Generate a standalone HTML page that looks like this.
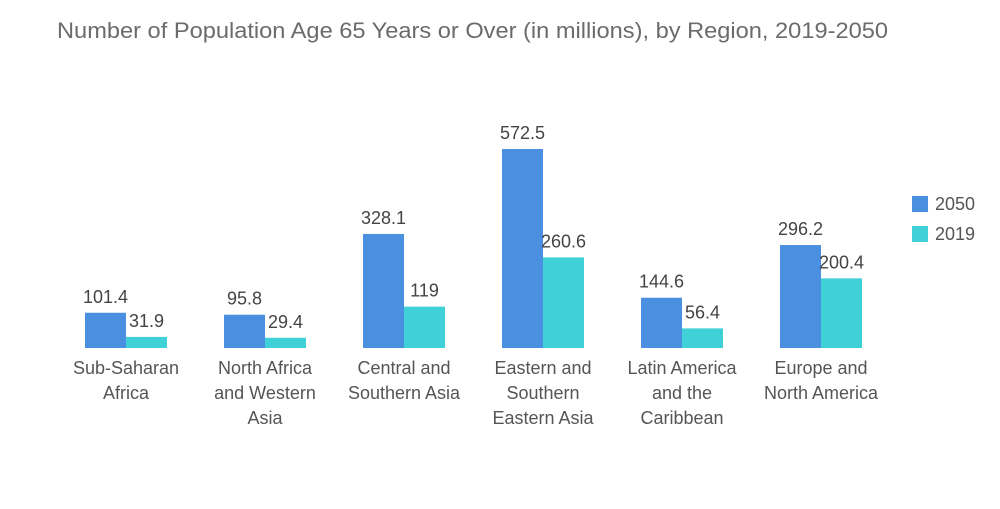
<!DOCTYPE html>
<html><head><meta charset="utf-8"><style>
body{margin:0;background:#fff;width:1000px;height:504px;overflow:hidden;font-family:"Liberation Sans",sans-serif}
svg text{font-family:"Liberation Sans",sans-serif}
</style></head><body>
<svg id="chart" width="1000" height="504">
<text x="57" y="38" font-size="22" fill="#6b6b6b" textLength="831" lengthAdjust="spacingAndGlyphs">Number of Population Age 65 Years or Over (in millions), by Region, 2019-2050</text>
<g id="bars"></g>
<rect x="912" y="196" width="16" height="16" fill="#4a8fe0"/>
<text x="935" y="210" font-size="18" fill="#555">2050</text>
<rect x="912" y="226" width="16" height="16" fill="#3fd0d8"/>
<text x="935" y="240" font-size="18" fill="#555">2019</text>
</svg>
<script>
const categories=[["Sub-Saharan","Africa"],["North Africa","and Western","Asia"],["Central and","Southern Asia"],["Eastern and","Southern","Eastern Asia"],["Latin America","and the","Caribbean"],["Europe and","North America"]];
const values2050=[101.4,95.8,328.1,572.5,144.6,296.2];
const values2019=[31.9,29.4,119,260.6,56.4,200.4];
const labels2050=["101.4","95.8","328.1","572.5","144.6","296.2"];
const labels2019=["31.9","29.4","119","260.6","56.4","200.4"];
const base=348, scale=199/572.5, x0=126, step=139, bw=41;
const g=document.getElementById('bars');
const NS='http://www.w3.org/2000/svg';
function yOf(v){return base-v*scale;}
function mk(tag,attrs){const e=document.createElementNS(NS,tag);for(const k in attrs)e.setAttribute(k,attrs[k]);g.appendChild(e);return e;}
categories.forEach((c,i)=>{
  const cx=x0+i*step;
  [[values2050,labels2050,"#4a8fe0",cx-bw,"2050"],[values2019,labels2019,"#3fd0d8",cx,"2019"]].forEach(s=>{
    const v=s[0][i];
    const r=mk('rect',{x:s[3],y:yOf(v),width:bw,height:v*scale,fill:s[2]});
    
    
    const t=mk('text',{x:s[3]+bw/2,y:yOf(v)-10,'font-size':18,fill:'#444','text-anchor':'middle'});
    t.textContent=s[1][i];
    
    
  });
  c.forEach((line,j)=>{
    const t=mk('text',{x:cx,y:374+j*25,'font-size':18,fill:'#555','text-anchor':'middle'});
    t.textContent=line;
    
    
  });
});
</script>
</body></html>
